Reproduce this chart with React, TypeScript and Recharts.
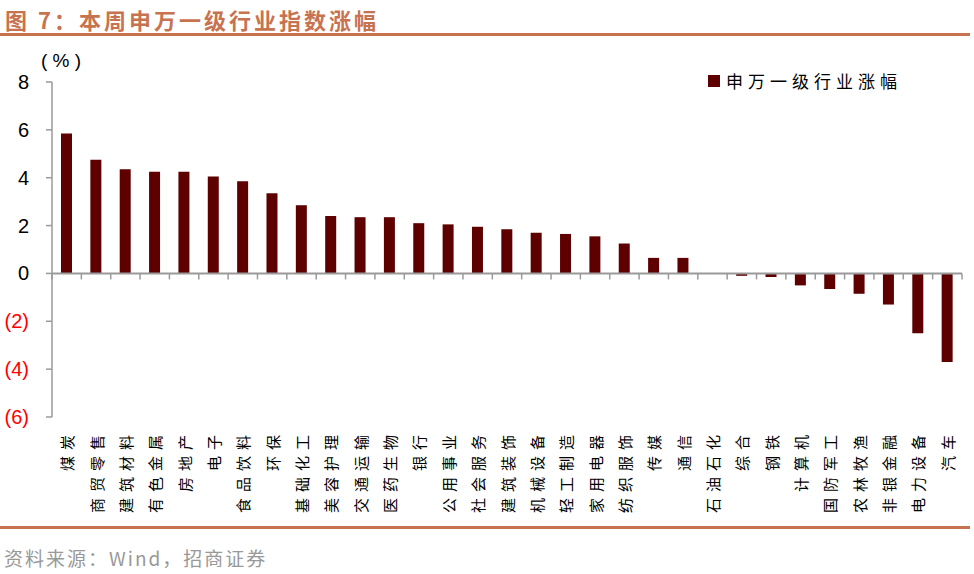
import React from "react";
import { BarChart, Bar, XAxis, YAxis, ReferenceLine } from "recharts";

const industries = [
  "煤炭", "商贸零售", "建筑材料", "有色金属", "房地产", "电子", "食品饮料", "环保",
  "基础化工", "美容护理", "交通运输", "医药生物", "银行", "公用事业", "社会服务", "建筑装饰",
  "机械设备", "轻工制造", "家用电器", "纺织服饰", "传媒", "通信", "石油石化", "综合",
  "钢铁", "计算机", "国防军工", "农林牧渔", "非银金融", "电力设备", "汽车",
];

const weeklyChange = [
  5.85, 4.75, 4.35, 4.25, 4.25, 4.05, 3.85, 3.35,
  2.85, 2.4, 2.35, 2.35, 2.1, 2.05, 1.95, 1.85,
  1.7, 1.65, 1.55, 1.25, 0.65, 0.65, 0.0, -0.1,
  -0.15, -0.5, -0.65, -0.85, -1.3, -2.5, -3.7,
];

const yTicks = [-6, -4, -2, 0, 2, 4, 6, 8];

const seriesName = "申万一级行业涨幅";

const data = industries.map((name, i) => ({ name, value: weeklyChange[i] }));

// plot geometry
const W = 974;
const H = 574;
const PLOT_TOP = 82;
const PLOT_BOTTOM = 417;
const PLOT_LEFT = 52;
const PLOT_RIGHT = 962;
const Y_MIN = -6;
const Y_MAX = 8;
const ZERO_Y = PLOT_TOP + ((PLOT_BOTTOM - PLOT_TOP) * Y_MAX) / (Y_MAX - Y_MIN);
const BAND = (PLOT_RIGHT - PLOT_LEFT) / industries.length;

const AXIS_GRAY = "#9a9a9a";
const BAR_COLOR = "#5e0000";
const ACCENT = "#c8734f";

const CJK = '"Noto Sans CJK SC", "Noto Sans", sans-serif';

function XTick(props: any) {
  const { x, payload, index } = props;
  return (
    <g>
      <line x1={x + BAND / 2} x2={x + BAND / 2} y1={ZERO_Y} y2={ZERO_Y + 6} stroke={AXIS_GRAY} strokeWidth={1.5} />
      {index === 0 && (
        <line x1={x - BAND / 2} x2={x - BAND / 2} y1={ZERO_Y} y2={ZERO_Y + 6} stroke={AXIS_GRAY} strokeWidth={1.5} />
      )}
      <text
        transform={`translate(${x},${PLOT_BOTTOM + 12}) rotate(-90)`}
        textAnchor="end"
        dominantBaseline="central"
        fontSize={15}
        letterSpacing={6}
        fill="#000"
        fontFamily={CJK}
      >
        {payload.value}
      </text>
    </g>
  );
}

function YTick(props: any) {
  const { x, y, payload } = props;
  const v = payload.value as number;
  const label = v < 0 ? `(${Math.abs(v)})` : `${v}`;
  return (
    <text
      x={x - 15}
      y={y}
      textAnchor="end"
      dominantBaseline="central"
      fontSize={20}
      fontFamily="Arial, 'Liberation Sans', sans-serif"
      fill={v < 0 ? "#ff0000" : "#000"}
    >
      {label}
    </text>
  );
}

export default function App() {
  return (
    <div style={{ position: "absolute", left: 0, top: 0, width: W, height: H, background: "#fff", overflow: "hidden" }}>
      <div
        style={{
          position: "absolute",
          left: 5,
          top: 3,
          fontFamily: CJK,
          fontWeight: 700,
          fontSize: 22,
          letterSpacing: 3,
          color: ACCENT,
          whiteSpace: "nowrap",
        }}
      >
        图 7：本周申万一级行业指数涨幅
      </div>
      <div style={{ position: "absolute", left: 0, top: 33, width: 970, height: 3, background: ACCENT }} />

      <div
        style={{
          position: "absolute",
          left: 41,
          top: 50,
          fontFamily: "Arial, 'Liberation Sans', sans-serif",
          fontSize: 19,
          color: "#000",
          whiteSpace: "pre",
        }}
      >
        {"( % )"}
      </div>

      <div style={{ position: "absolute", left: 0, top: 0 }}>
        <BarChart
          width={W}
          height={H}
          data={data}
          margin={{ top: PLOT_TOP, right: W - PLOT_RIGHT, bottom: 47, left: 0 }}
          barCategoryGap={0}
        >
          <XAxis
            dataKey="name"
            interval={0}
            axisLine={false}
            tickLine={false}
            height={H - 47 - PLOT_BOTTOM}
            tick={<XTick />}
          />
          <YAxis
            width={PLOT_LEFT}
            domain={[Y_MIN, Y_MAX]}
            ticks={yTicks}
            allowDataOverflow
            axisLine={{ stroke: AXIS_GRAY, strokeWidth: 1.5 }}
            tickLine={{ stroke: AXIS_GRAY, strokeWidth: 1.5 }}
            tickSize={6}
            tick={<YTick />}
          />
          <Bar dataKey="value" name={seriesName} fill={BAR_COLOR} barSize={11} isAnimationActive={false} />
          <ReferenceLine y={0} stroke={AXIS_GRAY} strokeWidth={2} />
        </BarChart>
      </div>

      <div
        style={{
          position: "absolute",
          left: 708,
          top: 68,
          display: "flex",
          alignItems: "center",
          fontFamily: CJK,
          fontSize: 17,
          letterSpacing: 5,
          color: "#000",
          whiteSpace: "nowrap",
        }}
      >
        <span style={{ display: "inline-block", width: 12, height: 12, background: BAR_COLOR, marginRight: 6 }} />
        <span>{seriesName}</span>
      </div>

      <div style={{ position: "absolute", left: 0, top: 526, width: 970, height: 3, background: ACCENT }} />
      <div
        style={{
          position: "absolute",
          left: 4,
          top: 544,
          fontFamily: CJK,
          fontSize: 19,
          letterSpacing: 2,
          color: "#999",
          whiteSpace: "nowrap",
        }}
      >
        资料来源：Wind，招商证券
      </div>
    </div>
  );
}
